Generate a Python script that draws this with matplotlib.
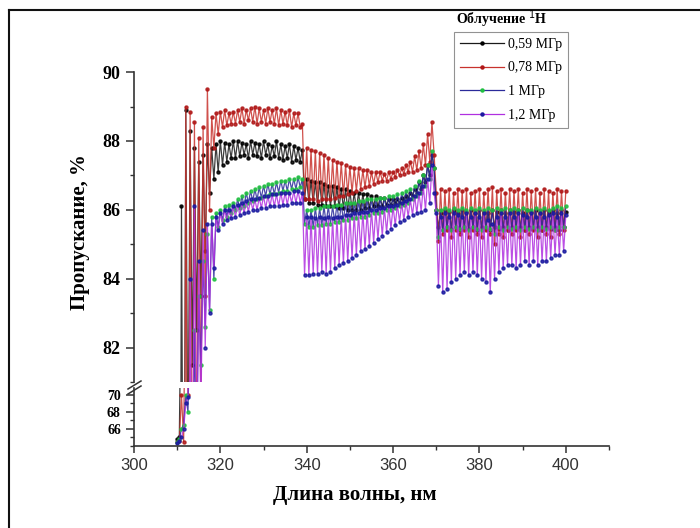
import numpy as np
import matplotlib
matplotlib.use("Agg")
from matplotlib import pyplot as plt
from matplotlib.lines import Line2D
from matplotlib.ticker import MultipleLocator

# wavelength grid: peaks sit on whole nm, troughs on the half nm
wl = np.arange(310, 400.5, 0.5)

# 0,59 MGy (black)
a_peak = [64.8, 86.1, 88.9, 88.3, 87.8, 87.4, 87.6, 87.9, 87.8, 87.9,
          88.0, 87.95, 87.9, 88.0, 88.0, 87.95, 87.9, 88.0, 87.95, 87.9,
          88.0, 87.9, 87.85, 88.0, 87.9, 87.85, 87.9, 87.85, 87.8, 87.75,
          86.9, 86.85, 86.8, 86.8, 86.75, 86.7, 86.7, 86.65, 86.6, 86.6,
          86.55, 86.5, 86.5, 86.45, 86.45, 86.4, 86.4, 86.35, 86.35, 86.3,
          86.3, 86.3, 86.35, 86.4, 86.5, 86.6, 86.8, 87.0, 87.3, 87.6,
          86.0, 85.9, 86.0, 85.95, 86.0, 85.9, 86.0, 85.95, 86.0, 85.9,
          86.0, 85.95, 85.9, 86.0, 85.95, 86.0, 85.9, 86.0, 85.95, 86.0,
          85.9, 86.0, 85.95, 86.0, 85.9, 86.0, 85.95, 86.0, 85.9, 86.0,
          85.95]
a_trough = [65.0, 72.0, 78.0, 81.5, 82.5, 83.5, 84.8, 86.5, 86.9, 87.1,
            87.3, 87.4, 87.5, 87.5, 87.55, 87.6, 87.5, 87.6, 87.55, 87.5,
            87.6, 87.5, 87.55, 87.5, 87.45, 87.5, 87.4, 87.45, 87.4, 86.3,
            86.2, 86.2, 86.15, 86.15, 86.1, 86.1, 86.1, 86.05, 86.05, 86.0,
            86.0, 86.0, 86.0, 86.05, 86.05, 86.1, 86.1, 86.1, 86.15, 86.15,
            86.2, 86.2, 86.25, 86.3, 86.4, 86.5, 86.6, 86.8, 87.0, 87.2,
            85.5, 85.4, 85.5, 85.45, 85.5, 85.4, 85.5, 85.45, 85.5, 85.4,
            85.5, 85.45, 85.4, 85.5, 85.45, 85.5, 85.4, 85.5, 85.45, 85.5,
            85.4, 85.5, 85.45, 85.5, 85.4, 85.5, 85.45, 85.5, 85.4, 85.5]

# 0,78 MGy (red)
b_peak = [64.5, 70.0, 89.0, 88.85, 88.55, 88.1, 88.4, 89.5, 88.7, 88.8,
          88.85, 88.9, 88.8, 88.85, 88.9, 88.95, 88.9, 88.95, 89.0, 88.95,
          88.9, 88.95, 88.9, 88.95, 88.9, 88.85, 88.9, 88.8, 88.8, 88.5,
          87.8, 87.75, 87.7, 87.65, 87.6, 87.5, 87.45, 87.4, 87.35, 87.3,
          87.25, 87.2, 87.2, 87.15, 87.15, 87.1, 87.1, 87.1, 87.05, 87.1,
          87.1, 87.15, 87.2, 87.3, 87.4, 87.55, 87.7, 87.9, 88.2, 88.55,
          86.5, 86.6, 86.55, 86.6, 86.5, 86.6, 86.55, 86.6, 86.5, 86.55,
          86.6, 86.5, 86.6, 86.65, 86.55, 86.6, 86.5, 86.6, 86.55, 86.6,
          86.5, 86.6, 86.55, 86.6, 86.5, 86.6, 86.55, 86.5, 86.6, 86.55,
          86.55]
b_trough = [64.6, 64.5, 70.0, 75.0, 78.0, 80.0, 83.5, 86.0, 87.8, 88.2,
            88.4, 88.45, 88.5, 88.5, 88.55, 88.5, 88.6, 88.55, 88.5, 88.55,
            88.5, 88.55, 88.5, 88.45, 88.5, 88.45, 88.4, 88.45, 88.4, 86.3,
            86.3, 86.3, 86.25, 86.3, 86.3, 86.3, 86.35, 86.4, 86.4, 86.45,
            86.5, 86.55, 86.6, 86.65, 86.7, 86.75, 86.8, 86.85, 86.85, 86.9,
            86.95, 87.0, 87.05, 87.1, 87.1, 87.15, 87.2, 87.3, 87.4, 87.6,
            85.1, 85.3, 85.4, 85.2, 85.4, 85.3, 85.4, 85.2, 85.4, 85.3,
            85.2, 85.4, 85.3, 85.0, 85.3, 85.2, 85.4, 85.3, 85.4, 85.2,
            85.4, 85.3, 85.4, 85.2, 85.4, 85.3, 85.2, 85.4, 85.3, 85.4]

# 1 MGy (green markers)
c_peak = [64.5, 66.0, 70.0, 80.0, 82.5, 83.5, 84.5, 85.3, 85.8, 85.9,
          86.0, 86.1, 86.15, 86.2, 86.3, 86.4, 86.5, 86.55, 86.6, 86.65,
          86.7, 86.75, 86.75, 86.8, 86.85, 86.85, 86.9, 86.9, 86.95, 86.9,
          86.0, 86.0, 86.05, 86.05, 86.1, 86.1, 86.1, 86.15, 86.15, 86.2,
          86.2, 86.2, 86.25, 86.25, 86.3, 86.3, 86.3, 86.35, 86.35, 86.4,
          86.4, 86.45, 86.5, 86.55, 86.6, 86.7, 86.85, 87.0, 87.3, 87.7,
          86.0, 86.0, 86.05, 86.0, 86.05, 86.0, 86.05, 86.0, 86.05, 86.0,
          86.05, 86.0, 86.05, 86.0, 86.05, 86.0, 86.05, 86.0, 86.05, 86.0,
          86.05, 86.0, 86.0, 86.05, 86.0, 86.05, 86.0, 86.05, 86.1, 86.05,
          86.1]
c_trough = [64.8, 66.5, 68.0, 76.0, 79.0, 81.5, 82.6, 83.1, 84.0, 85.5,
            85.7, 85.8, 85.9, 86.0, 86.05, 86.1, 86.2, 86.25, 86.3, 86.35,
            86.4, 86.45, 86.45, 86.5, 86.55, 86.55, 86.6, 86.6, 86.65, 85.6,
            85.5, 85.5, 85.55, 85.55, 85.6, 85.6, 85.65, 85.65, 85.7, 85.7,
            85.75, 85.75, 85.8, 85.8, 85.85, 85.9, 85.9, 85.95, 86.0, 86.0,
            86.05, 86.1, 86.15, 86.2, 86.3, 86.4, 86.5, 86.7, 86.9, 87.2,
            85.2, 85.4, 85.5, 85.4, 85.5, 85.45, 85.5, 85.4, 85.5, 85.45,
            85.4, 85.5, 85.45, 85.3, 85.5, 85.4, 85.5, 85.45, 85.5, 85.4,
            85.5, 85.45, 85.5, 85.4, 85.5, 85.45, 85.5, 85.4, 85.5, 85.5]

# 1,2 MGy (purple line, blue markers)
d_peak = [64.4, 65.0, 69.0, 84.0, 86.1, 84.5, 85.4, 85.6, 85.6, 85.8,
          85.9, 86.0, 86.0, 86.1, 86.15, 86.2, 86.25, 86.3, 86.3, 86.35,
          86.4, 86.4, 86.45, 86.45, 86.5, 86.5, 86.5, 86.55, 86.55, 86.5,
          85.8, 85.8, 85.75, 85.8, 85.75, 85.8, 85.75, 85.8, 85.8, 85.85,
          85.85, 85.9, 85.9, 85.95, 85.95, 86.0, 86.0, 86.05, 86.05, 86.1,
          86.1, 86.15, 86.2, 86.25, 86.3, 86.4, 86.5, 86.7, 86.9, 87.3,
          85.9, 85.8, 85.9, 85.8, 85.9, 85.85, 85.8, 85.9, 85.8, 85.9,
          85.8, 85.9, 85.7, 85.6, 85.8, 85.9, 85.8, 85.9, 85.8, 85.9,
          85.85, 85.8, 85.9, 85.8, 85.9, 85.8, 85.85, 85.9, 85.8, 85.9,
          85.85]
d_trough = [64.6, 66.0, 69.7, 76.0, 78.0, 80.0, 82.0, 83.0, 84.3, 85.4,
            85.6, 85.7, 85.75, 85.8, 85.85, 85.9, 85.95, 86.0, 86.0, 86.05,
            86.05, 86.1, 86.1, 86.1, 86.15, 86.15, 86.2, 86.2, 86.2, 84.1,
            84.1, 84.15, 84.15, 84.2, 84.15, 84.2, 84.3, 84.4, 84.45, 84.5,
            84.6, 84.7, 84.8, 84.85, 84.95, 85.05, 85.15, 85.25, 85.35, 85.45,
            85.55, 85.65, 85.7, 85.8, 85.85, 85.9, 85.95, 86.0, 86.2, 86.5,
            83.8, 83.6, 83.7, 83.9, 84.0, 84.1, 84.2, 84.1, 84.2, 84.1,
            84.0, 83.9, 83.6, 84.0, 84.2, 84.3, 84.4, 84.4, 84.3, 84.4,
            84.5, 84.4, 84.5, 84.4, 84.5, 84.5, 84.6, 84.7, 84.7, 84.8]

labels = ["0,59 МГр", "0,78 МГр", "1 МГр", "1,2 МГр"]
line_colors = ["#1a1a1a", "#c8322d", "#2a2a9a", "#b030e0"]
mark_colors = ["#000000", "#b01818", "#20c040", "#1a1aa0"]


def merge(peak, trough):
    y = np.empty(len(peak) + len(trough))
    y[0::2] = peak
    y[1::2] = trough
    return y


series = [merge(a_peak, a_trough), merge(b_peak, b_trough),
          merge(c_peak, c_trough), merge(d_peak, d_trough)]

serif = ["Liberation Serif", "DejaVu Serif"]
sans = ["Liberation Sans", "DejaVu Sans"]

fig = plt.figure(figsize=(7, 5.28), dpi=100)
ax_top = fig.add_axes([0.1914, 0.2765, 0.6786, 0.587])
ax_bot = fig.add_axes([0.1914, 0.1553, 0.6786, 0.110])

for ax in (ax_top, ax_bot):
    for y, lc, mc in zip(series, line_colors, mark_colors):
        ax.plot(wl, y, color=lc, lw=0.9, alpha=0.85, marker="o", ms=2.2,
                mfc=mc, mec=mc)
    ax.set_xlim(300, 410)
    ax.spines["top"].set_visible(False)
    ax.spines["right"].set_visible(False)
    ax.spines["left"].set_color("#333333")
    ax.spines["bottom"].set_color("#333333")
    ax.spines["left"].set_linewidth(1.2)
    ax.spines["bottom"].set_linewidth(1.2)
    ax.tick_params(axis="y", which="major", direction="out", length=6,
                   width=1.1, color="#333333")
    ax.tick_params(axis="y", which="minor", direction="out", length=3,
                   width=1.0, color="#333333")
    ax.yaxis.set_minor_locator(MultipleLocator(1))

ax_top.set_ylim(81, 90)
ax_top.set_yticks([82, 84, 86, 88, 90])
ax_top.spines["bottom"].set_visible(False)
ax_top.tick_params(axis="x", which="both", bottom=False, labelbottom=False)
for t in ax_top.get_yticklabels():
    t.set_fontfamily(serif)
    t.set_fontweight("bold")
    t.set_fontsize(13)

ax_bot.set_ylim(64, 70.8)
ax_bot.set_yticks([66, 68, 70])
for t in ax_bot.get_yticklabels():
    t.set_fontfamily(serif)
    t.set_fontweight("bold")
    t.set_fontsize(10)
ax_bot.set_xticks([300, 320, 340, 360, 380, 400])
ax_bot.xaxis.set_minor_locator(MultipleLocator(10))
ax_bot.tick_params(axis="x", which="major", direction="out", length=5,
                   width=1.1, color="#333333", labelsize=12, labelcolor="#333333")
ax_bot.tick_params(axis="x", which="minor", direction="out", length=3,
                   width=1.0, color="#333333")
for t in ax_bot.get_xticklabels():
    t.set_fontfamily(sans)

# axis break marks
for dy in (0, 5):
    fig.add_artist(Line2D([128 / 700, 141 / 700],
                          [1 - (389 + dy) / 528, 1 - (381 + dy) / 528],
                          color="#333333", lw=1.1))

fig.text(355 / 700, 1 - 495 / 528, "Длина волны, нм", ha="center",
         va="center", fontsize=15, fontweight="bold", family=serif)
fig.text(80 / 700, 1 - 232 / 528, "Пропускание, %", ha="center",
         va="center", rotation=90, fontsize=15, fontweight="bold",
         family=serif)

# legend
handles = [Line2D([], [], color=lc, lw=0.9, marker="o", ms=2.2, mfc=mc, mec=mc)
           for lc, mc in zip(line_colors, mark_colors)]
leg = fig.legend(handles, labels, loc="upper left",
                 bbox_to_anchor=(454 / 700, 1 - 32 / 528), borderaxespad=0,
                 prop={"family": serif, "size": 10}, frameon=True,
                 fancybox=False, edgecolor="#777777", handlelength=3.2,
                 labelspacing=0.78, borderpad=0.4, handletextpad=0.3)
leg.get_frame().set_linewidth(0.8)
fig.text(456 / 700, 1 - 19 / 528, "Облучение $^{1}$H", ha="left",
         va="center", fontsize=10, fontweight="bold", family=serif)

# picture frame (top and left edges)
fig.add_artist(Line2D([9 / 700, 1.0], [1 - 10 / 528, 1 - 10 / 528],
                      color="#111111", lw=1.5))
fig.add_artist(Line2D([9 / 700, 9 / 700], [0, 1 - 10 / 528],
                      color="#111111", lw=1.5))

fig.savefig("out.png", dpi=100)
